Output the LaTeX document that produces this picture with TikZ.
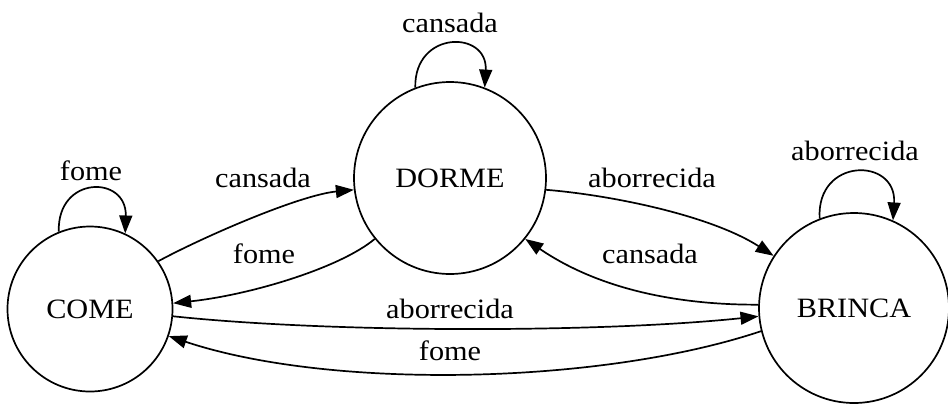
\documentclass[tikz,border=0pt]{standalone}
\usepackage{fontspec}
\setmainfont[FakeStretch=1.08]{Liberation Serif}
\usetikzlibrary{arrows.meta}
\begin{document}
\begin{tikzpicture}[x=1pt,y=-1pt,
  state/.style={circle,draw,line width=1.7pt,inner sep=0pt,font=\fontsize{28}{31}\selectfont},
  lbl/.style={inner sep=0pt,anchor=base,font=\fontsize{28}{31}\selectfont},
  edge/.style={line width=1.7pt,-{Triangle[length=18pt,width=13pt]}}]
\useasboundingbox (0,0) rectangle (948,405);

% states
\node[state,minimum size=165pt] (come) at (90,309) {COME};
\node[state,minimum size=192pt] (dorme) at (450,178) {DORME};
\node[state,minimum size=190pt] (brinca) at (854,308) {BRINCA};

% self loops
\draw[edge] (come.112) .. controls (57,175) and (127,175) .. (come.65);
\draw[edge] (dorme.111) .. controls (414,30) and (488,30) .. (dorme.69);
\draw[edge] (brinca.111) .. controls (816,157) and (897,157) .. (brinca.66);

% transitions between states
\draw[edge] (come.35) .. controls (205,236) and (300,195) .. (dorme.187);
\draw[edge] (dorme.219) .. controls (340,268) and (250,295) .. (come.4);
\draw[edge] (come.-5) .. controls (330,333) and (600,333) .. (brinca.185);
\draw[edge] (brinca.194) .. controls (600,385) and (330,390) .. (come.-19);
\draw[edge] (dorme.-7) .. controls (610,195) and (710,215) .. (brinca.147);
\draw[edge] (brinca.178) .. controls (680,305) and (600,290) .. (dorme.-39);

% transition labels
\node[lbl] (lcomeloop) at (91,180) {fome};
\node[lbl] (ldormeloop) at (450,32) {cansada};
\node[lbl] (lbrincaloop) at (855,160) {aborrecida};
\node[lbl] (lcd) at (263,187) {cansada};
\node[lbl] (ldc) at (264,263) {fome};
\node[lbl] (lcb) at (450,318) {aborrecida};
\node[lbl] (lbc) at (450,360) {fome};
\node[lbl] (ldb) at (652,187) {aborrecida};
\node[lbl] (lbd) at (650,263) {cansada};
\end{tikzpicture}
\end{document}
